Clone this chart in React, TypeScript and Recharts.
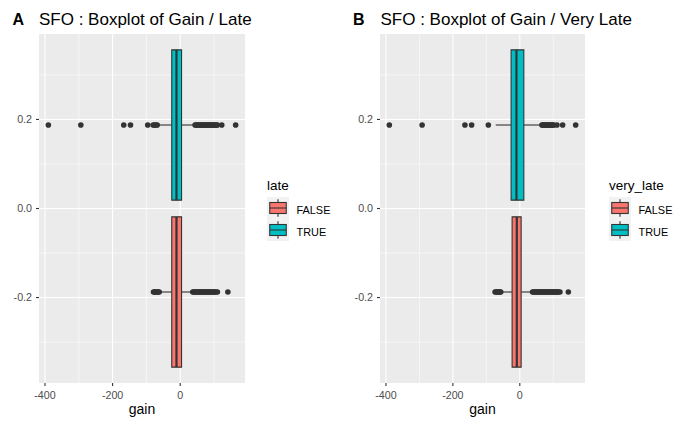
import React from "react";
import {
  ScatterChart,
  Scatter,
  XAxis,
  YAxis,
  CartesianGrid,
  ReferenceArea,
  ReferenceLine,
} from "recharts";

// ggplot default hue pair
const FALSE_FILL = "#F8766D";
const TRUE_FILL = "#00BFC4";
const INK = "#333333";

// axis breaks
const xMajor = [-400, -200, 0];
const xMinor = [-300, -100, 100];
const yMajor = [-0.2, 0, 0.2];
const yMinor = [-0.3, -0.1, 0.1, 0.3];

// box stats: [lower whisker, q1, median, q3, upper whisker]
const lateFalseStats = [-60, -25, -11, 4, 34];
const lateFalseOutliers = [
  -79, -76, -74, -71, -68, -65, -62, 37, 40, 43, 46, 49, 52, 55, 58, 61, 64, 67, 70, 73, 76, 79,
  82, 85, 88, 91, 94, 97, 100, 103, 106, 110, 141,
];
const lateTrueStats = [-66, -25, -11, 4, 39];
const lateTrueOutliers = [
  -390, -294, -167, -147, -96, -80, -76, -72, -68, 44, 47, 50, 53, 56, 59, 62, 65, 68, 71, 74, 77,
  80, 83, 86, 89, 92, 95, 98, 101, 104, 107, 110, 123, 164,
];

const veryLateFalseStats = [-55, -23, -9, 4, 35];
const veryLateFalseOutliers = [
  -74, -71, -68, -65, -62, -59, -57, 38, 41, 44, 47, 50, 53, 56, 59, 62, 65, 68, 71, 74, 77, 80, 83,
  86, 89, 92, 95, 98, 101, 104, 107, 110, 113, 116, 120, 145,
];
const veryLateTrueStats = [-72, -26, -10, 12, 61];
const veryLateTrueOutliers = [
  -390, -292, -164, -144, -94, 66, 69, 72, 75, 78, 81, 84, 87, 90, 93, 96, 99, 101, 111, 128, 167,
];

// dodged group centres (0.75 total width, 0.9 box)
const FALSE_Y = -0.1875;
const TRUE_Y = 0.1875;
const HALF = 0.16875;
const Y_LIM = (TRUE_Y + HALF) * 1.1;

const FONT = "Liberation Sans, Arial, sans-serif";

const expand = (vals: number[]) => {
  const lo = Math.min(...vals);
  const hi = Math.max(...vals);
  const pad = (hi - lo) * 0.05;
  return [lo - pad, hi + pad];
};

const dot = (p: any) => <circle cx={p.cx} cy={p.cy} r={2.8} fill={INK} />;

function boxElements(stats: number[], yc: number, fill: string, key: string) {
  const [lw, q1, med, q3, uw] = stats;
  return [
    <ReferenceLine
      key={key + "wl"}
      segment={[{ x: lw, y: yc }, { x: q1, y: yc }]}
      stroke={INK}
      strokeWidth={1.1}
      zIndex={300}
    />,
    <ReferenceLine
      key={key + "wu"}
      segment={[{ x: q3, y: yc }, { x: uw, y: yc }]}
      stroke={INK}
      strokeWidth={1.1}
      zIndex={300}
    />,
    <ReferenceArea
      key={key + "box"}
      x1={q1}
      x2={q3}
      y1={yc - HALF}
      y2={yc + HALF}
      fill={fill}
      fillOpacity={1}
      stroke={INK}
      strokeWidth={1.1}
      zIndex={350}
    />,
    <ReferenceLine
      key={key + "med"}
      segment={[{ x: med, y: yc - HALF }, { x: med, y: yc + HALF }]}
      stroke={INK}
      strokeWidth={2.2}
      zIndex={400}
    />,
  ];
}

function Panel({
  left,
  axisWidth,
  falseStats,
  falseOut,
  trueStats,
  trueOut,
}: {
  left: number;
  axisWidth: number;
  falseStats: number[];
  falseOut: number[];
  trueStats: number[];
  trueOut: number[];
}) {
  const xDomain = expand([...falseStats, ...falseOut, ...trueStats, ...trueOut]);
  const falsePts = falseOut.map((g) => ({ gain: g, y: FALSE_Y }));
  const truePts = trueOut.map((g) => ({ gain: g, y: TRUE_Y }));
  return (
    <div style={{ position: "absolute", left, top: 0 }}>
      <ScatterChart width={250} height={426} margin={{ top: 34, right: 5, bottom: 0, left: 0 }}>
        <CartesianGrid fill="#EBEBEB" horizontal={false} vertical={false} />
        {xMinor.map((v) => (
          <ReferenceLine key={"xm" + v} x={v} stroke="#ffffff" strokeWidth={0.55} zIndex={-90} />
        ))}
        {yMinor.map((v) => (
          <ReferenceLine key={"ym" + v} y={v} stroke="#ffffff" strokeWidth={0.55} zIndex={-90} />
        ))}
        {xMajor.map((v) => (
          <ReferenceLine key={"xM" + v} x={v} stroke="#ffffff" strokeWidth={1.1} zIndex={-80} />
        ))}
        {yMajor.map((v) => (
          <ReferenceLine key={"yM" + v} y={v} stroke="#ffffff" strokeWidth={1.1} zIndex={-80} />
        ))}
        <XAxis
          type="number"
          dataKey="gain"
          domain={xDomain}
          ticks={xMajor}
          allowDataOverflow
          height={43}
          axisLine={false}
          tickSize={3}
          tickMargin={5}
          tickLine={{ stroke: INK, strokeWidth: 1.1 }}
          tick={{ fontSize: 10.7, fill: "#4D4D4D", fontFamily: FONT }}
          label={{
            value: "gain",
            position: "insideBottom",
            offset: 12,
            fontSize: 14,
            fill: "#000000",
            fontFamily: FONT,
          }}
        />
        <YAxis
          type="number"
          dataKey="y"
          domain={[-Y_LIM, Y_LIM]}
          ticks={yMajor}
          allowDataOverflow
          width={axisWidth}
          axisLine={false}
          tickSize={3}
          tickMargin={4}
          tickLine={{ stroke: INK, strokeWidth: 1.1 }}
          tickFormatter={(v: number) => v.toFixed(1)}
          tick={{ fontSize: 10.7, fill: "#4D4D4D", fontFamily: FONT }}
        />
        {boxElements(falseStats, FALSE_Y, FALSE_FILL, "f")}
        {boxElements(trueStats, TRUE_Y, TRUE_FILL, "t")}
        <Scatter data={falsePts} shape={dot} isAnimationActive={false} />
        <Scatter data={truePts} shape={dot} isAnimationActive={false} />
      </ScatterChart>
    </div>
  );
}

function LegendKey({ x, y, fill }: { x: number; y: number; fill: string }) {
  return (
    <g>
      <rect x={x} y={y} width={22} height={22} fill="#F2F2F2" />
      <line x1={x + 11} x2={x + 11} y1={y + 2.2} y2={y + 19.8} stroke={INK} strokeWidth={1.1} />
      <rect x={x + 2.75} y={y + 5.5} width={16.5} height={11} fill={fill} stroke={INK} strokeWidth={1.1} />
      <line x1={x + 2.75} x2={x + 19.25} y1={y + 11} y2={y + 11} stroke={INK} strokeWidth={1.1} />
    </g>
  );
}

function Legend({ x, title }: { x: number; title: string }) {
  return (
    <g fontFamily={FONT}>
      <text x={x} y={189.5} fontSize={13.5} fill="#000">
        {title}
      </text>
      <LegendKey x={x} y={197} fill={FALSE_FILL} />
      <LegendKey x={x} y={219} fill={TRUE_FILL} />
      <text x={x + 29.5} y={214} fontSize={10.9} fill="#000">
        FALSE
      </text>
      <text x={x + 29.5} y={236} fontSize={10.9} fill="#000">
        TRUE
      </text>
    </g>
  );
}

export default function App() {
  return (
    <div
      style={{
        position: "absolute",
        left: 0,
        top: 0,
        width: 677,
        height: 426,
        background: "#ffffff",
        overflow: "hidden",
      }}
    >
      <Panel
        left={0}
        axisWidth={39}
        falseStats={lateFalseStats}
        falseOut={lateFalseOutliers}
        trueStats={lateTrueStats}
        trueOut={lateTrueOutliers}
      />
      <Panel
        left={340}
        axisWidth={40}
        falseStats={veryLateFalseStats}
        falseOut={veryLateFalseOutliers}
        trueStats={veryLateTrueStats}
        trueOut={veryLateTrueOutliers}
      />
      <svg
        width={677}
        height={426}
        style={{ position: "absolute", left: 0, top: 0, pointerEvents: "none" }}
        fontFamily={FONT}
      >
        <text x={12.5} y={24.5} fontSize={16} fontWeight="bold" fill="#000">
          A
        </text>
        <text x={39} y={25} fontSize={17} fill="#000">
          SFO : Boxplot of Gain / Late
        </text>
        <text x={353} y={24.5} fontSize={16} fontWeight="bold" fill="#000">
          B
        </text>
        <text x={380.5} y={25} fontSize={17} fill="#000">
          SFO : Boxplot of Gain / Very Late
        </text>
        <Legend x={267} title="late" />
        <Legend x={609} title="very_late" />
      </svg>
    </div>
  );
}
